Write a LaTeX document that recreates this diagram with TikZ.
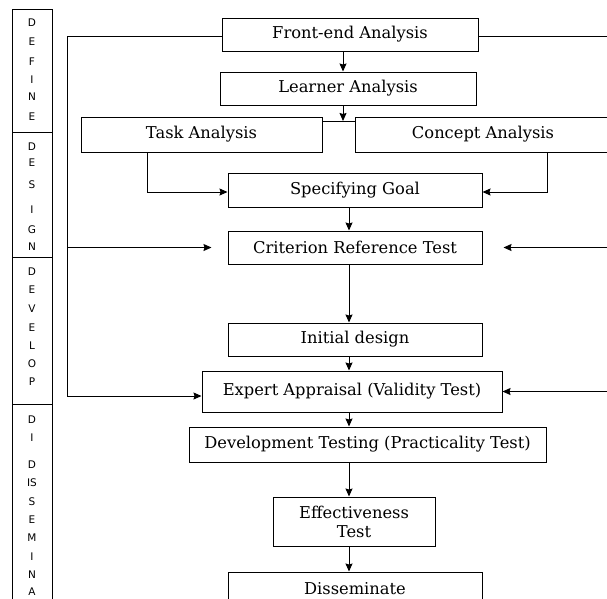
\documentclass[tikz,border=0pt]{standalone}
\usepackage{fontspec}
\newfontfamily\boxfont{DejaVu Serif}
\newfontfamily\phasefont{DejaVu Sans}
\usetikzlibrary{arrows.meta}
\tikzstyle{arrow} = [line width=1pt,->,>={Stealth[length=8pt,width=7pt,inset=1pt]}]
\tikzstyle{line} = [line width=1pt]
\tikzstyle{stage} = [rectangle, draw, line width=1pt, inner sep=0pt, text centered, font=\boxfont\fontsize{16.3}{19}\selectfont]
\tikzstyle{phase} = [rectangle, draw, line width=1pt, inner sep=0pt, minimum width=40pt]
\tikzstyle{letter} = [inner sep=0pt, font=\phasefont\fontsize{10.5}{11}\selectfont]

\begin{document}
\begin{tikzpicture}[x=1pt, y=-1pt]
\useasboundingbox (0,0) rectangle (607,598);

% Phase column
\node (define) [phase, minimum height=123pt] at (32,70.5) {};
\node (design) [phase, minimum height=125pt] at (32,194.5) {};
\node (develop) [phase, minimum height=147pt] at (32,330.5) {};
\node (spread) [phase, minimum height=206pt] at (32,507) {};
\foreach \ch/\yy [count=\i] in {D/23,E/42,F/62,I/80,N/97,E/117,
    D/147,E/163,S/185,I/210,G/230,N/247,
    D/272,E/290,V/309,E/328,L/346,O/364,P/382,
    D/420,I/438,D/465,IS/483,S/502,E/520,M/538,I/557,N/575,A/592}
  \node (ltr\i) [letter] at (32,\yy) {\ch};

% Steps
\node (front) [stage, minimum width=256pt, minimum height=33pt] at (350,34.5) {Front-end Analysis};
\node (learner) [stage, minimum width=256pt, minimum height=33pt] at (348,88.5) {Learner Analysis};
\node (task) [stage, minimum width=241pt, minimum height=35pt] at (201.5,134.5) {Task Analysis};
\node (concept) [stage, minimum width=256pt, minimum height=35pt] at (483,134.5) {Concept Analysis};
\node (goal) [stage, minimum width=254pt, minimum height=34pt] at (355,190) {Specifying Goal};
\node (crit) [stage, minimum width=254pt, minimum height=33pt] at (355,247.5) {Criterion Reference Test};
\node (initial) [stage, minimum width=254pt, minimum height=33pt] at (355,339.5) {Initial design};
\node (expert) [stage, minimum width=300pt, minimum height=41pt] at (352,391.5) {Expert Appraisal (Validity Test)};
\node (devtest) [stage, minimum width=357pt, minimum height=35pt] at (367.5,444.5) {Development Testing (Practicality Test)};
\node (effect) [stage, minimum width=162pt, minimum height=49pt, align=center] at (354,521.5) {Effectiveness\\Test};
\node (dissem) [stage, minimum width=254pt, minimum height=34pt] at (355,589) {Disseminate};

% Helper points
\coordinate (join) at (343,121);
\coordinate (axis) at (349,0);
\coordinate (lft) at (67,0);
\coordinate (rgt) at (609,0);

% Main flow
\draw[arrow] (front.south -| join) -- (learner.north -| join);
\draw[arrow] (learner.south -| join) -- (join);
\draw[line] (task.east |- join) -- (concept.west |- join);
\draw[arrow] ([xshift=-54.5pt]task.south) |- ([yshift=-2pt]goal.west);
\draw[arrow] ([xshift=64pt]concept.south) |- ([yshift=-2pt]goal.east);
\draw[arrow] (goal.south -| axis) -- (crit.north -| axis);
\draw[arrow] (crit.south -| axis) -- (initial.north -| axis);
\draw[arrow] (initial.south -| axis) -- (expert.north -| axis);
\draw[arrow] (expert.south -| axis) -- (devtest.north -| axis);
\draw[arrow] (devtest.south -| axis) -- (effect.north -| axis);
\draw[arrow] (effect.south -| axis) -- (dissem.north -| axis);

% Feedback lines
\draw[arrow] ([yshift=-2pt]front.west) -- ([yshift=-2pt]front.west -| lft) |- ([yshift=-4.5pt]expert.west);
\draw[arrow] (crit.west -| lft) -- ([xshift=-16pt]crit.west);
\draw[line] ([yshift=-1.5pt]front.east) -- ([yshift=-1.5pt]front.east -| rgt) -- (expert.east -| rgt);
\draw[arrow] (crit.east -| rgt) -- ([xshift=21pt]crit.east);
\draw[arrow] (expert.east -| rgt) -- (expert.east);
\end{tikzpicture}
\end{document}
